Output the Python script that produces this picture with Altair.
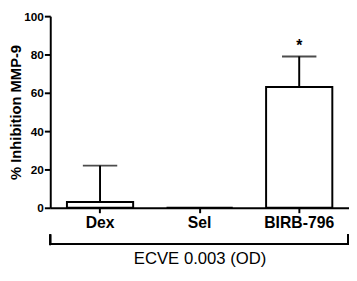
import altair as alt
import pandas as pd

categories = ["Dex", "Sel", "BIRB-796"]
means = [3, 0, 63]
upper = [22, None, 79]
marks = ["", "", "*"]

df = pd.DataFrame({"cat": categories, "mean": means, "upper": upper, "sig": marks})

FONT = "Liberation Sans"
YTITLE = "% Inhibition MMP-9"

x_axis = alt.Axis(labelAngle=0, labelFont=FONT, labelFontSize=16, labelFontWeight="bold",
                  labelColor="black", labelPadding=2, domainColor="black", domainWidth=2,
                  tickColor="black", tickWidth=2, tickSize=5,
                  titleFont=FONT, titleFontSize=17, titleFontWeight="normal",
                  titleColor="black", titlePadding=21)
x_scale = alt.Scale(paddingInner=0.335, paddingOuter=0.1675)
y_scale = alt.Scale(domain=[0, 100], nice=False)
y_axis = alt.Axis(values=[0, 20, 40, 60, 80, 100], grid=False, labelOverlap=False,
                  labelFont=FONT, labelFontSize=12,
                  labelFontWeight="bold", labelColor="black", labelPadding=1,
                  domainColor="black", domainWidth=2, tickColor="black", tickWidth=2, tickSize=6,
                  titleFont=FONT, titleFontSize=15, titleFontWeight="bold", titleColor="black",
                  titlePadding=0)


def X():
    return alt.X("cat:N", sort=categories, title="ECVE 0.003 (OD)", scale=x_scale, axis=x_axis)


def Y(field):
    return alt.Y(field, scale=y_scale, axis=y_axis, title=YTITLE)


base = alt.Chart(df)
valid = base.transform_filter("isValid(datum.upper)")

bars = base.mark_bar(fill="white", stroke="black", strokeWidth=2).encode(x=X(), y=Y("mean:Q"))

err = valid.mark_rule(color="black", strokeWidth=2).encode(x=X(), y=Y("mean:Q"), y2="upper:Q")

cap = valid.mark_tick(color="black", thickness=2, size=35).encode(x=X(), y=Y("upper:Q"))

star = valid.mark_text(font=FONT, fontSize=16, fontWeight="bold", baseline="bottom", dy=-2,
                       color="black").encode(x=X(), y=Y("upper:Q"), text="sig:N")

W, H = 304, 195
br_h = alt.Chart(df).mark_rule(color="black", strokeWidth=2, clip=False).encode(
    x=alt.value(0), x2=alt.value(W - 1), y=alt.value(H + 37))
br_l = alt.Chart(df).mark_rule(color="black", strokeWidth=2, clip=False).encode(
    x=alt.value(0), y=alt.value(H + 27), y2=alt.value(H + 38))
br_r = alt.Chart(df).mark_rule(color="black", strokeWidth=2, clip=False).encode(
    x=alt.value(W - 1), y=alt.value(H + 27), y2=alt.value(H + 38))

chart = alt.layer(bars, err, cap, star, br_h, br_l, br_r).properties(
    width=W, height=H,
    padding={"left": 0, "top": 0, "right": 0, "bottom": 0},
    background="white",
).configure_view(stroke=None)

chart.save("out.html", embed_options={"renderer": "svg", "actions": False})
